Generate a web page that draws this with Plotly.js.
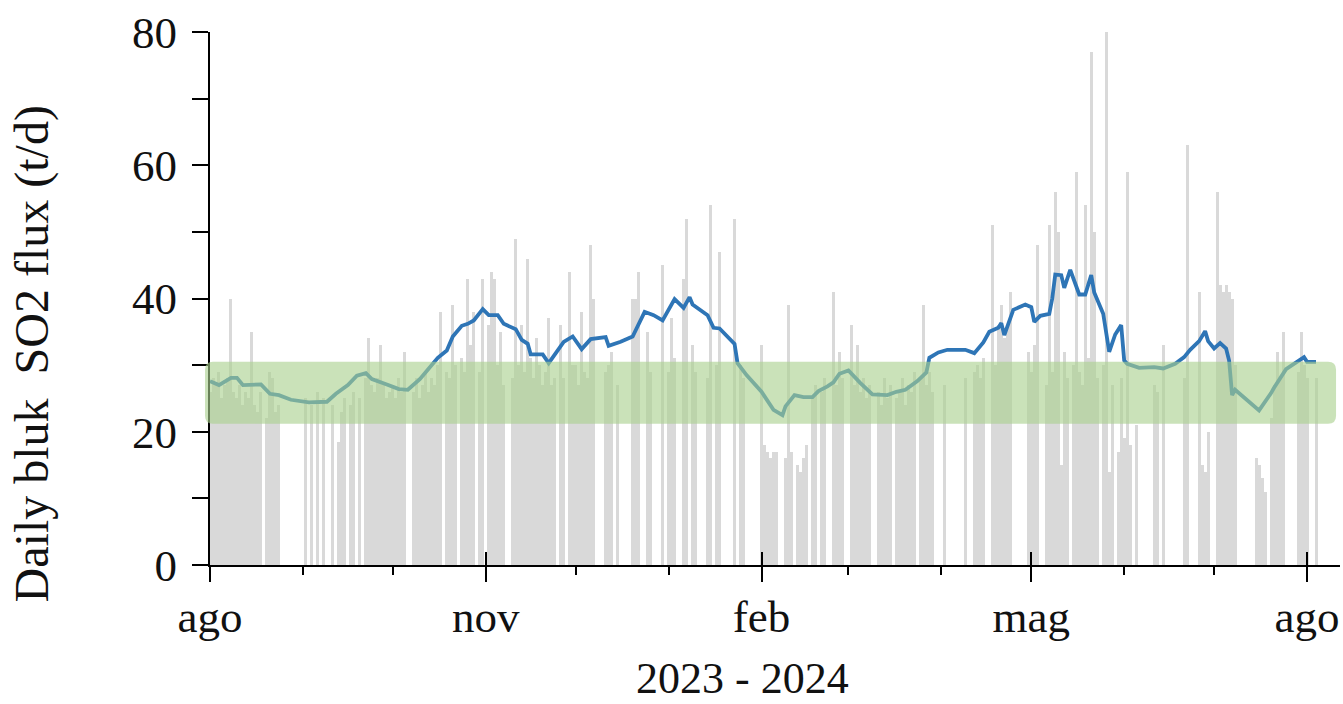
<!DOCTYPE html>
<html>
<head>
<meta charset="utf-8">
<script src="https://cdn.plot.ly/plotly-3.0.1.min.js"></script>
<style>
  html, body { margin: 0; padding: 0; background: #ffffff; }
  #chart { width: 1343px; height: 704px; }
</style>
</head>
<body>
<div id="chart"></div>
<script>
// ---- Data (daily bulk SO2 flux, t/d; null = no measurement) ----
const monthStarts = ['2023-08','2023-09','2023-10','2023-11','2023-12','2024-01','2024-02','2024-03','2024-04','2024-05','2024-06','2024-07','2024-08'];

const aug23 = [26,28,27,29,25,27,28,40,26,25,27,24,26,25,35,24,23,26,null,22,29,28,23,24,null,null,null,null,null,null,null];
const sep23 = [null,25,null,24,null,26,null,25,null,null,24,null,18.5,23,25,null,24,26,null,25,null,28,34,27,26,28,33,27,25,26];
const oct23 = [27,25,28,26,32,null,null,26,28,25,27,29,26,28,27,30,38,null,29,28,39,30,null,31,29,43,33,38,null,29,43];
const nov23 = [null,36,44,43,30,35,27,null,null,28,49,30,36,29,46,31,28,34,30,27,29,37,27,28,null,36,28,null,44,30];
const dec23 = [30,27,38,29,28,48,40,null,null,null,29,30,32,null,27,null,null,null,null,40,40,44,null,null,35,29,null,null,null,45,null];
const jan24 = [29,37,31,null,null,43,52,null,33,29,null,null,null,28,54,null,30,47,null,null,null,null,52,null,30,28,null,null,null,null,null];
const feb24 = [33,18,17,16,17,17,null,null,16,39,17,null,15,14,16,18,null,25,27,null,26,28,null,null,41,27,32,28,null];
const mar24 = [null,36,27,33,26,28,25,27,null,null,26,24,28,25,27,null,25,26,28,24,27,26,29,null,28,39,27,29,26,null,null];
const apr24 = [null,27,null,null,null,null,null,null,28,null,null,29,30,28,31,null,null,51,30,36,39,34,36,41,null,null,null,null,null,32];
const may24 = [29,33,48,null,null,27,51,29,56,50,15,32,28,null,30,59,29,27,54,31,77,50,28,null,30,80,14,27,null,17,28];
const jun24 = [19,59,18,null,21,null,null,null,null,null,27,26,null,33,null,null,null,null,null,null,28,63,null,null,null,41,15,14,20,null];
const jul24 = [null,56,42,41,42,41,40,30,null,null,null,null,null,null,16,15,13,11,null,22,27,32,28,35,null,null,null,null,29,35,30];
const aug24 = [28,null,null,28];
const monthlyValues = [aug23, sep23, oct23, nov23, dec23, jan24, feb24, mar24, apr24, may24, jun24, jul24, aug24];

// ---- Moving-average line ----
const lineDates = ['2023-08-01','2023-08-04','2023-08-08','2023-08-10','2023-08-12','2023-08-18','2023-08-21','2023-08-24','2023-08-28',
  '2023-09-03','2023-09-09','2023-09-12','2023-09-16','2023-09-19','2023-09-22','2023-09-24','2023-09-29',
  '2023-10-03','2023-10-06','2023-10-10','2023-10-13','2023-10-16','2023-10-19','2023-10-21','2023-10-24','2023-10-26','2023-10-28','2023-10-31',
  '2023-11-02','2023-11-05','2023-11-07','2023-11-11','2023-11-13','2023-11-15','2023-11-16','2023-11-20','2023-11-22','2023-11-24','2023-11-27','2023-11-30',
  '2023-12-03','2023-12-06','2023-12-11','2023-12-12','2023-12-16','2023-12-20','2023-12-24','2023-12-27','2023-12-30',
  '2024-01-03','2024-01-06','2024-01-08','2024-01-09','2024-01-14','2024-01-16','2024-01-18','2024-01-23','2024-01-24','2024-01-27',
  '2024-02-01','2024-02-03','2024-02-05','2024-02-08','2024-02-09','2024-02-12','2024-02-15','2024-02-18','2024-02-20','2024-02-23','2024-02-25','2024-02-27',
  '2024-03-01','2024-03-05','2024-03-09','2024-03-14','2024-03-17','2024-03-20','2024-03-24','2024-03-27','2024-03-28','2024-03-31',
  '2024-04-03','2024-04-09','2024-04-12','2024-04-15','2024-04-17','2024-04-20','2024-04-21','2024-04-22','2024-04-24','2024-04-25','2024-04-29',
  '2024-05-01','2024-05-02','2024-05-04','2024-05-07','2024-05-08','2024-05-09','2024-05-11','2024-05-12','2024-05-14','2024-05-17','2024-05-19','2024-05-21','2024-05-22','2024-05-25','2024-05-27','2024-05-29','2024-05-31',
  '2024-06-01','2024-06-02','2024-06-06','2024-06-11','2024-06-14','2024-06-18','2024-06-21','2024-06-23','2024-06-26','2024-06-28','2024-06-29',
  '2024-07-01','2024-07-03','2024-07-05','2024-07-06','2024-07-07','2024-07-08','2024-07-12','2024-07-16','2024-07-20','2024-07-21','2024-07-25','2024-07-29','2024-07-31',
  '2024-08-01','2024-08-04'];
const lineValues = [27.6,27.0,28.1,28.1,27.0,27.1,25.7,25.5,24.8,
  24.4,24.5,25.7,27.0,28.4,28.8,27.9,27.1,
  26.4,26.3,27.9,29.5,31.1,32.2,34.3,35.9,36.2,36.7,38.4,
  37.5,37.5,36.2,35.4,33.8,33.2,31.6,31.6,30.3,31.6,33.5,34.3,
  32.4,33.9,34.2,32.9,33.5,34.3,38.0,37.5,36.7,
  39.9,38.6,40.2,39.1,37.5,35.6,35.5,33.2,30.3,28.5,
  26.0,24.7,23.3,22.5,23.8,25.5,25.2,25.2,26.1,26.8,27.4,28.7,
  29.2,27.3,25.6,25.5,26.0,26.3,27.6,28.9,31.1,31.9,
  32.3,32.3,31.8,33.4,35.0,35.6,36.3,34.5,36.9,38.3,39.1,
  38.7,36.5,37.4,37.7,40.0,43.6,43.5,41.6,44.3,40.6,40.6,43.5,40.9,37.7,32.0,34.6,36.0,
  30.7,30.2,29.6,29.7,29.5,30.2,31.2,32.3,33.6,35.1,33.6,
  32.5,33.3,32.5,30.7,25.5,26.3,24.8,23.2,25.8,26.6,29.4,30.5,31.2,
  30.5,30.5];

// ---- Reference band (t/d) and axis labels ----
const bandLow = 21.2;
const bandHigh = 30.5;
const majorTickDates = ['2023-08-01','2023-11-01','2024-02-01','2024-05-01','2024-08-01'];
const majorTickLabels = ['ago','nov','feb','mag','ago'];
const minorTickDates = ['2023-09-01','2023-10-01','2023-12-01','2024-01-01','2024-03-01','2024-04-01','2024-06-01','2024-07-01'];
const xRange = ['2023-08-01','2024-08-12'];
const yTicks = [0,20,40,60,80];
const xTitleText = '2023 - 2024';
const yTitleText = 'Daily bluk \u00a0SO2 flux (t/d)';

// ---- Build daily series ----
const barDates = [];
const barValues = [];
monthlyValues.forEach(function (vals, i) {
  vals.forEach(function (v, j) {
    const dd = (j + 1 < 10 ? '0' : '') + (j + 1);
    barDates.push(monthStarts[i] + '-' + dd);
    barValues.push(v);
  });
});

const FONT = 'Liberation Serif, Times New Roman, serif';
const TXT = '#111111';

const traces = [
  {
    type: 'bar', x: barDates, y: barValues,
    marker: { color: '#d9d9d9', line: { width: 0 } },
    hoverinfo: 'skip', showlegend: false
  },
  {
    type: 'scatter', mode: 'lines', x: lineDates, y: lineValues,
    line: { color: '#2e75b6', width: 3.8 },
    hoverinfo: 'skip', showlegend: false
  },
  {
    type: 'scatter', mode: 'lines', x: [majorTickDates[0]], y: [null],
    xaxis: 'x2', yaxis: 'y', hoverinfo: 'skip', showlegend: false
  }
];

// rounded band (x in paper units, y in data units)
const bx0 = -0.0044, bx1 = 0.9965, rx = 0.007, ry = 1.2;
const bandPath = 'M ' + (bx0 + rx) + ',' + bandLow +
  ' L ' + (bx1 - rx) + ',' + bandLow +
  ' Q ' + bx1 + ',' + bandLow + ' ' + bx1 + ',' + (bandLow + ry) +
  ' L ' + bx1 + ',' + (bandHigh - ry) +
  ' Q ' + bx1 + ',' + bandHigh + ' ' + (bx1 - rx) + ',' + bandHigh +
  ' L ' + (bx0 + rx) + ',' + bandHigh +
  ' Q ' + bx0 + ',' + bandHigh + ' ' + bx0 + ',' + (bandHigh - ry) +
  ' L ' + bx0 + ',' + (bandLow + ry) +
  ' Q ' + bx0 + ',' + bandLow + ' ' + (bx0 + rx) + ',' + bandLow + ' Z';

const layout = {
  width: 1343, height: 704,
  margin: { l: 210, r: 3, t: 32, b: 139, pad: 0 },
  paper_bgcolor: '#ffffff', plot_bgcolor: '#ffffff',
  font: { family: FONT, size: 45, color: TXT },
  bargap: 0,
  showlegend: false,
  hovermode: false,
  xaxis: {
    type: 'date', range: xRange,
    showgrid: false, zeroline: false,
    showline: true, linecolor: '#000', linewidth: 2,
    tickmode: 'array', tickvals: majorTickDates, ticktext: majorTickLabels,
    ticks: 'outside', ticklen: 15, tickwidth: 2, tickcolor: '#000',
    tickfont: { family: FONT, size: 45, color: TXT },
    ticklabelstandoff: -4,
    minor: { tickmode: 'array', tickvals: minorTickDates, ticks: 'outside', ticklen: 8, tickwidth: 2, tickcolor: '#000', showgrid: false }
  },
  xaxis2: {
    type: 'date', range: xRange, overlaying: 'x', anchor: 'y', side: 'bottom',
    showgrid: false, zeroline: false, showline: false,
    tickmode: 'array', tickvals: majorTickDates,
    ticks: 'inside', ticklen: 13, tickwidth: 2, tickcolor: '#000',
    showticklabels: false
  },
  yaxis: {
    range: [0, 80],
    showgrid: false, zeroline: false,
    showline: true, linecolor: '#000', linewidth: 2,
    tickmode: 'array', tickvals: yTicks,
    ticks: 'outside', ticklen: 16, tickwidth: 2, tickcolor: '#000',
    tickfont: { family: FONT, size: 45, color: TXT },
    ticklabelstandoff: 6,
    minor: { dtick: 10, ticks: 'outside', ticklen: 16, tickwidth: 2, tickcolor: '#000', showgrid: false }
  },
  shapes: [
    {
      type: 'path', xref: 'paper', yref: 'y', layer: 'above',
      path: bandPath,
      fillcolor: 'rgba(169,209,142,0.62)', line: { width: 0 }
    }
  ],
  annotations: [
    {
      text: xTitleText, xref: 'paper', yref: 'paper',
      x: 0.4708, y: -0.2122, xanchor: 'center', yanchor: 'middle', borderpad: 0,
      showarrow: false, font: { family: FONT, size: 44, color: TXT }
    },
    {
      text: yTitleText, xref: 'paper', yref: 'paper', textangle: -90,
      x: -0.158, y: 0.396, xanchor: 'center', yanchor: 'middle',
      showarrow: false, font: { family: FONT, size: 48, color: TXT }
    }
  ]
};

Plotly.newPlot('chart', traces, layout, { staticPlot: true, displayModeBar: false });
</script>
</body>
</html>
